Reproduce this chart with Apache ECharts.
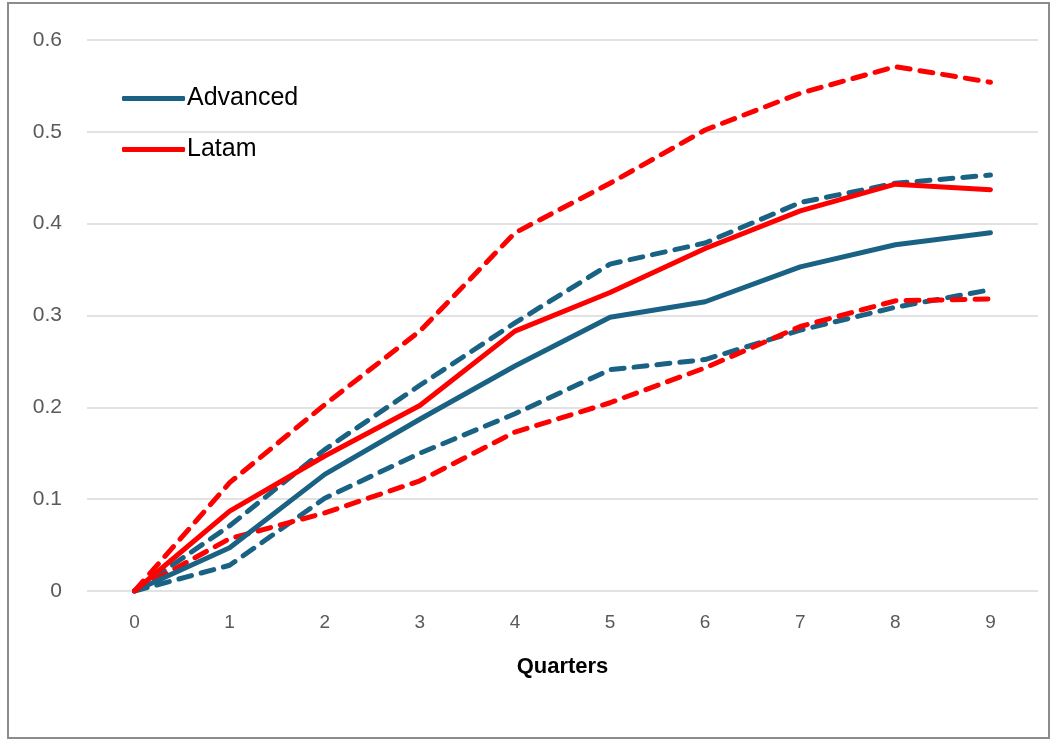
<!DOCTYPE html>
<html>
<head>
<meta charset="utf-8">
<script src="https://cdn.jsdelivr.net/npm/echarts@6/dist/echarts.min.js"></script>
<style>
html,body{margin:0;padding:0;background:#fff;}
#frame{position:absolute;left:7px;top:2px;width:1043px;height:737px;border:2px solid #8c8c8c;box-sizing:border-box;}
#chart{position:absolute;left:0;top:0;width:1062px;height:743px;}
</style>
</head>
<body>
<div id="frame"></div>
<div id="chart"></div>
<script>
const categories = ['0','1','2','3','4','5','6','7','8','9'];
const advanced      = [0, 0.047, 0.127, 0.187, 0.245, 0.298, 0.315, 0.353, 0.377, 0.390];
const advancedUpper = [0, 0.071, 0.154, 0.224, 0.292, 0.356, 0.379, 0.423, 0.444, 0.453];
const advancedLower = [0, 0.028, 0.101, 0.150, 0.193, 0.241, 0.252, 0.284, 0.309, 0.328];
const latam         = [0, 0.087, 0.147, 0.202, 0.283, 0.325, 0.373, 0.414, 0.443, 0.437];
const latamUpper    = [0, 0.118, 0.203, 0.283, 0.390, 0.444, 0.502, 0.542, 0.571, 0.554];
const latamLower    = [0, 0.057, 0.085, 0.120, 0.173, 0.205, 0.243, 0.288, 0.316, 0.318];
const yTicks = [0, 0.1, 0.2, 0.3, 0.4, 0.5, 0.6];

const BLUE = '#1a6283', RED = '#ff0000';
function line(name, data, color, dashed, z) {
  return {
    name, type: 'line', data, symbol: 'none', smooth: false, z,
    lineStyle: { color, width: 5, type: dashed ? [13, 10] : 'solid', cap: 'round', join: 'round' },
    itemStyle: { color }
  };
}
const chart = echarts.init(document.getElementById('chart'));
chart.setOption({
  animation: false,
  textStyle: { fontFamily: 'Liberation Sans, Arial, sans-serif' },
  grid: { left: 87, right: 24, top: 40, bottom: 152, containLabel: false },
  legend: {
    data: ['Advanced', 'Latam'],
    orient: 'vertical', left: 117, top: 81,
    itemWidth: 63, itemHeight: 5, itemGap: 26,
    icon: 'roundRect',
    textStyle: { fontSize: 25, color: '#000', padding: [0, 0, 0, -3] }
  },
  xAxis: {
    type: 'category', data: categories, boundaryGap: true,
    name: 'Quarters', nameLocation: 'middle', nameGap: 65,
    nameTextStyle: { fontSize: 22, fontWeight: 'bold', color: '#000' },
    axisLine: { show: false }, axisTick: { show: false },
    axisLabel: { fontSize: 19, color: '#595959', margin: 22 }
  },
  yAxis: {
    type: 'value', min: 0, max: 0.6, interval: 0.1,
    axisLine: { show: false }, axisTick: { show: false },
    axisLabel: { fontSize: 21, color: '#595959', margin: 25,
      formatter: v => { const t = yTicks.find(x => Math.abs(x - v) < 1e-9); return t === 0 ? '0' : String(+t.toFixed(1)); } },
    splitLine: { lineStyle: { color: '#d9d9d9', width: 1.5 } }
  },
  series: [
    line('Advanced', advanced, BLUE, false, 5),
    line('Latam', latam, RED, false, 6),
    line('Advanced upper', advancedUpper, BLUE, true, 3),
    line('Advanced lower', advancedLower, BLUE, true, 3),
    line('Latam upper', latamUpper, RED, true, 4),
    line('Latam lower', latamLower, RED, true, 4)
  ]
});
</script>
</body>
</html>
